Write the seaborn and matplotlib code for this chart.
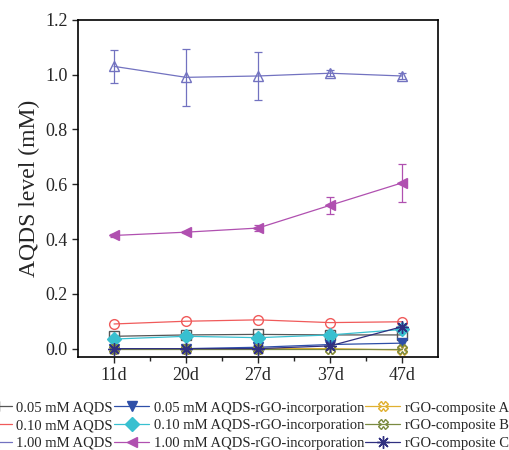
# AQDS level over time for AQDS / rGO samples

import seaborn as sns
import matplotlib.pyplot as plt
import pandas as pd

days = ['11d', '20d', '27d', '37d', '47d']

aqds_005 = [0.045, 0.050, 0.052, 0.050, 0.050]
aqds_010 = [0.090, 0.100, 0.105, 0.095, 0.098]
aqds_100 = [1.030, 0.990, 0.995, 1.005, 0.995]
aqds_100_err = [0.060, 0.105, 0.088, 0.010, 0.010]

rgo_005 = [0.000, 0.000, 0.005, 0.015, 0.020]
rgo_010 = [0.035, 0.045, 0.040, 0.050, 0.070]
rgo_100 = [0.413, 0.425, 0.440, 0.523, 0.605]
rgo_100_err = [0.004, 0.004, 0.010, 0.030, 0.070]

comp_a = [0.000, 0.000, 0.000, 0.000, -0.005]
comp_b = [0.000, 0.000, 0.000, 0.000, 0.000]
comp_c = [0.000, 0.000, 0.000, 0.010, 0.080]

# label, values, errors, colour, marker, filled
series = [
    ('0.05 mM AQDS', aqds_005, None, '#555555', 's', False),
    ('0.10 mM AQDS', aqds_010, None, '#F05A5A', 'o', False),
    ('1.00 mM AQDS', aqds_100, aqds_100_err, '#7272C0', '^', False),
    ('0.05 mM AQDS-rGO-incorporation', rgo_005, None, '#2E4FA8', 'v', True),
    ('0.10 mM AQDS-rGO-incorporation', rgo_010, None, '#38C0D0', 'D', True),
    ('1.00 mM AQDS-rGO-incorporation', rgo_100, rgo_100_err, '#B050B0', '<', True),
    ('rGO-composite A', comp_a, None, '#E0B030', 'X', False),
    ('rGO-composite B', comp_b, None, '#7A8A40', 'X', False),
    ('rGO-composite C', comp_c, None, '#303080', (8, 2, 0), True),
]

sns.set_style('ticks')
plt.rcParams['font.family'] = ['Liberation Serif', 'DejaVu Serif']

fig = plt.figure(figsize=(5.1, 4.5), dpi=100)
ax = fig.add_axes([0.153, 0.207, 0.706, 0.749])

for label, vals, err, color, marker, filled in series:
    df = pd.DataFrame({'day': days, 'level': vals})
    sns.lineplot(data=df, x='day', y='level', ax=ax, color=color, lw=0.9,
                 marker=marker, markersize=7 if marker != (8, 2, 0) else 9,
                 markerfacecolor=color if filled else 'none',
                 markeredgecolor=color, markeredgewidth=1.0, label=label,
                 sort=False)
    if err is not None:
        ax.errorbar(days, vals, yerr=err, fmt='none', ecolor=color,
                    elinewidth=0.9, capsize=3, capthick=0.9)

ax.set_xlim(-0.5, 4.5)
ax.set_ylim(-0.03, 1.2)
ax.set_yticks([0.0, 0.2, 0.4, 0.6, 0.8, 1.0, 1.2])
ax.set_yticklabels([f'{v:.1f}' for v in ax.get_yticks()])
ax.set_xticks([0.5, 1.5, 2.5, 3.5], minor=True)
ax.set_xlabel('')
ax.set_ylabel('AQDS level (mM)', fontsize=17)
ax.tick_params(axis='both', labelsize=13, direction='out', length=4, width=1)
ax.tick_params(axis='x', which='minor', direction='out', length=3, width=1)
for s in ax.spines.values():
    s.set_visible(True)
    s.set_linewidth(1.2)
    s.set_color('black')

handles, labels = ax.get_legend_handles_labels()
ax.get_legend().remove()
fig.legend(handles, labels, loc='upper center', bbox_to_anchor=(0.476, 0.121),
           ncol=3, frameon=False, fontsize=10.5, handlelength=2.4,
           handletextpad=0.3, columnspacing=0.1, labelspacing=0.3,
           borderaxespad=0)

fig.savefig('out.png', dpi=100)
